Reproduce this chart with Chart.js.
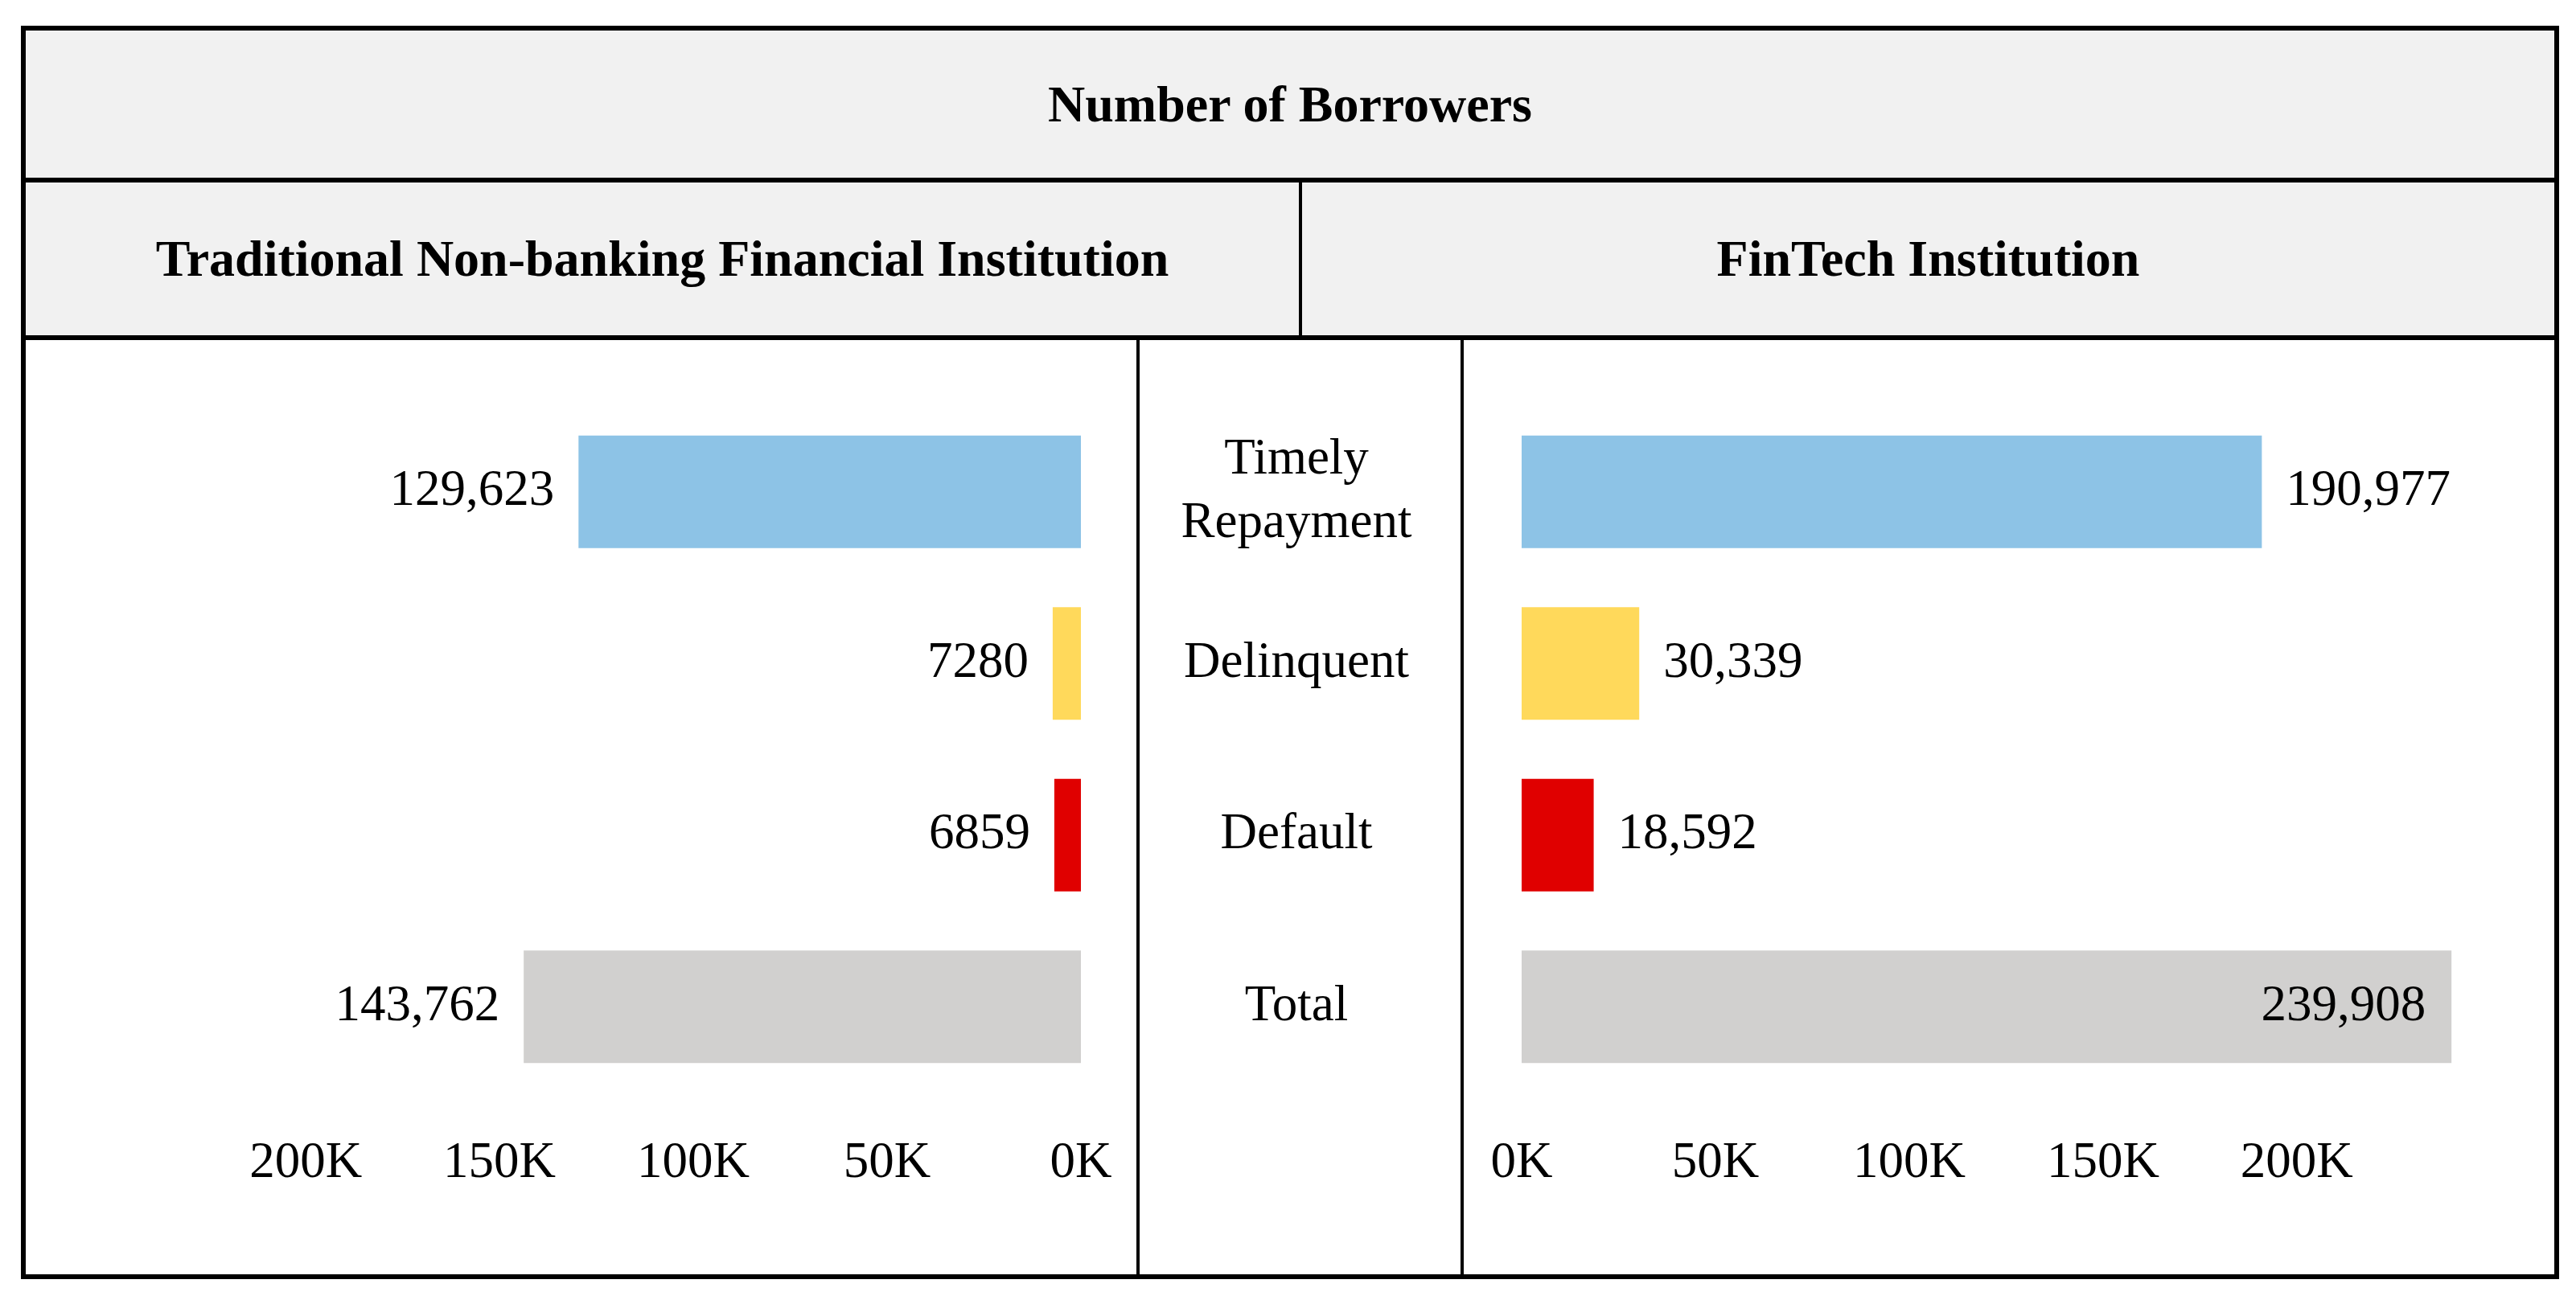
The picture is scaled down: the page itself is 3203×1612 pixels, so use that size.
<!DOCTYPE html>
<html lang="en">
<head>
<meta charset="UTF-8">
<title>Number of Borrowers</title>
<script src="https://cdn.jsdelivr.net/npm/chart.js@4.4.0/dist/chart.umd.min.js"></script>
<style>
  body { margin: 0; width: 3203px; height: 1612px; background: #fff; position: relative; overflow: hidden;
         font-family: "Liberation Serif", "Times New Roman", serif; color: #000; }
  .abs { position: absolute; }
  .frame { left: 26px; top: 32px; width: 3156px; height: 1559px; border: 6px solid #000; box-sizing: border-box; }
  .head { background: #f1f1f1; display: flex; align-items: center; justify-content: center;
          font-weight: bold; font-size: 64px; }
  .hline { background: #000; height: 6px; }
  .vline { background: #000; width: 4px; }
</style>
</head>
<body>
<div class="abs head" style="left:32px;top:38px;width:3144px;height:183px;">Number of Borrowers</div>
<div class="abs head" style="left:32px;top:227px;width:1583px;height:190px;">Traditional Non-banking Financial Institution</div>
<div class="abs head" style="left:1619px;top:227px;width:1557px;height:190px;">FinTech Institution</div>
<div class="abs hline" style="left:26px;top:221px;width:3156px;"></div>
<div class="abs hline" style="left:26px;top:417px;width:3156px;"></div>
<div class="abs vline" style="left:1615px;top:227px;height:190px;"></div>

<div class="abs" style="left:32px;top:423px;width:1380px;height:1162px;"><canvas id="leftChart"></canvas></div>
<div class="abs" style="left:1417px;top:423px;width:1759px;height:1162px;"><canvas id="rightChart"></canvas></div>
<div class="abs vline" style="left:1413px;top:423px;height:1162px;"></div>
<div class="abs vline" style="left:1816px;top:423px;height:1162px;"></div>
<div class="abs frame"></div>

<script>
    const categories = [['Timely', 'Repayment'], 'Delinquent', 'Default', 'Total'];
    const traditionalValues = [129623, 7280, 6859, 143762];
    const fintechValues = [190977, 30339, 18592, 239908];
    const axisTicks = [0, 50000, 100000, 150000, 200000];
    const barColors = ['#8dc3e6', '#ffd95b', '#e00000', '#d1d0cf'];

    const FONT = '"Liberation Serif", "Times New Roman", serif';

    function fmt(v) {
        return v >= 10000 ? v.toLocaleString('en-US') : String(v);
    }

    // value labels beside (or inside) each bar end
    const valueLabels = {
        id: 'valueLabels',
        afterDatasetsDraw(chart, args, opts) {
            const ctx = chart.ctx;
            const meta = chart.getDatasetMeta(0);
            const values = chart.data.datasets[0].data;
            const dir = opts.side === 'left' ? -1 : 1;
            ctx.save();
            ctx.font = '63px ' + FONT;
            ctx.fillStyle = '#000';
            ctx.textBaseline = 'middle';
            meta.data.forEach((bar, i) => {
                const text = fmt(values[i]);
                const w = ctx.measureText(text).width;
                let x = bar.x + dir * 30;
                let align = dir < 0 ? 'right' : 'left';
                const outer = x + dir * w;
                if (outer < 0 || outer > chart.width) {
                    x = bar.x - dir * 32;
                    align = dir < 0 ? 'left' : 'right';
                }
                ctx.textAlign = align;
                ctx.fillText(text, x, bar.y);
            });
            ctx.restore();
        }
    };

    function xScale(reverse) {
        return {
            type: 'linear',
            min: 0,
            max: 260000,
            reverse,
            grid: { display: false, drawTicks: false },
            border: { display: false },
            afterBuildTicks: s => { s.ticks = axisTicks.map(v => ({ value: v })); },
            afterFit: s => { s.height = 150; },
            ticks: {
                padding: 51,
                color: '#000',
                font: { family: FONT, size: 63 },
                callback: v => (v / 1000) + 'K'
            }
        };
    }

    function dataset(values) {
        return {
            data: values,
            backgroundColor: barColors,
            categoryPercentage: 1,
            barPercentage: 0.656
        };
    }

    // centre the category labels in the middle column
    const meas = document.createElement('canvas').getContext('2d');
    meas.font = '63px ' + FONT;
    const widest = Math.max(...categories.flat().map(t => meas.measureText(t).width));
    const yPad = 280 - widest / 2;

    new Chart(document.getElementById('leftChart'), {
        type: 'bar',
        data: { labels: categories, datasets: [dataset(traditionalValues)] },
        options: {
            indexAxis: 'y',
            responsive: true,
            maintainAspectRatio: false,
            animation: false,
            layout: { padding: { left: 59, right: 68, top: 82, bottom: 76 } },
            plugins: { legend: { display: false }, tooltip: { enabled: false }, valueLabels: { side: 'left' } },
            scales: {
                x: xScale(true),
                y: { display: false }
            }
        },
        plugins: [valueLabels]
    });

    new Chart(document.getElementById('rightChart'), {
        type: 'bar',
        data: { labels: categories, datasets: [dataset(fintechValues)] },
        options: {
            indexAxis: 'y',
            responsive: true,
            maintainAspectRatio: false,
            animation: false,
            layout: { padding: { left: 0, right: 31, top: 82, bottom: 76 } },
            plugins: { legend: { display: false }, tooltip: { enabled: false }, valueLabels: { side: 'right' } },
            scales: {
                x: xScale(false),
                y: {
                    position: 'left',
                    grid: { display: false, drawTicks: false },
                    border: { display: false },
                    afterFit: s => {
                        s.width = 475;
                        s.paddingTop = 0;
                        s.paddingBottom = 0;
                    },
                    ticks: {
                        crossAlign: 'center',
                        padding: yPad,
                        color: '#000',
                        font: { family: FONT, size: 63, lineHeight: 1.25 }
                    }
                }
            }
        },
        plugins: [valueLabels]
    });
</script>
</body>
</html>
